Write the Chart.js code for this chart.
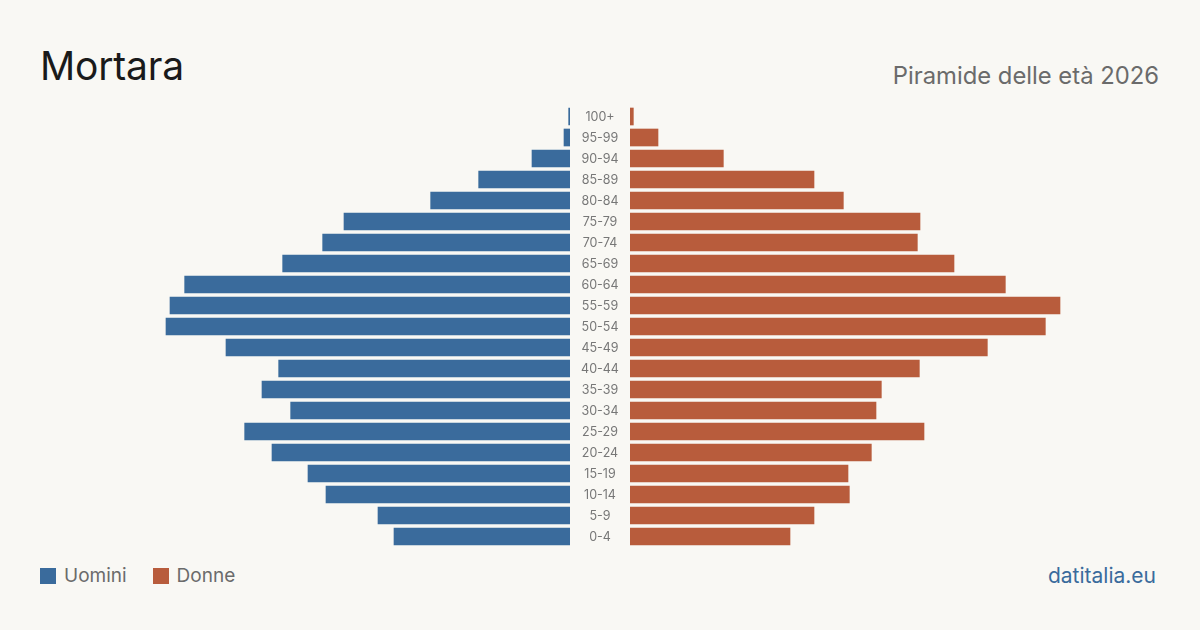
<!DOCTYPE html>
<html><head><meta charset="utf-8">
<script src="https://cdn.jsdelivr.net/npm/chart.js@4"></script>
<style>
html,body{margin:0;padding:0;background:#f9f8f4;width:1200px;height:630px;overflow:hidden;font-family:Inter,"Noto Sans",sans-serif;}
#title{position:absolute;left:40px;top:42px;font-size:39px;color:#1a1a1a;line-height:48px;letter-spacing:-0.2px;}
#sub{position:absolute;right:41px;top:62px;font-size:23.8px;color:#6b6b6b;line-height:28px;}
#legend{position:absolute;left:40px;top:564px;font-size:19px;color:#6b6b6b;line-height:24px;display:flex;align-items:center;}
.sw{display:inline-block;width:16px;height:16px;margin-right:8px;}
.it{display:flex;align-items:center;margin-right:26px;}
#brand{position:absolute;right:44px;top:563px;font-size:21px;color:#3a6b9c;line-height:26px;}
#lw{position:absolute;left:30px;top:106px;width:540px;height:441px;}
#rw{position:absolute;left:570px;top:106px;width:600px;height:441px;}
</style></head><body>
<div id="title">Mortara</div>
<div id="sub">Piramide delle età 2026</div>
<div id="legend"><span class="it"><span class="sw" style="background:#3a6b9c"></span>Uomini</span><span class="it"><span class="sw" style="background:#b85c3c"></span>Donne</span></div>
<div id="brand">datitalia.eu</div>
<div id="lw"><canvas id="left"></canvas></div>
<div id="rw"><canvas id="right"></canvas></div>
<script>
const ageGroups = ["100+","95-99","90-94","85-89","80-84","75-79","70-74","65-69","60-64","55-59","50-54","45-49","40-44","35-39","30-34","25-29","20-24","15-19","10-14","5-9","0-4"];
const uomini = [2,9,57,137,209,339,371,431,578,600,606,516,437,462,419,488,447,393,366,288,264];
const donne = [5,42,140,276,320,435,431,486,563,645,623,536,434,377,369,441,362,327,329,276,240];
const axisMax = 810;
const blue = "#3a6b9c", orange = "#b85c3c";

Chart.defaults.font.family = "Inter, 'Noto Sans', sans-serif";
Chart.defaults.animation = false;

const centerLabels = {
  id: "centerLabels",
  afterDraw(chart) {
    const ctx = chart.ctx, ys = chart.scales.y, left = chart.chartArea.left;
    ctx.save();
    ctx.fillStyle = "#777";
    ctx.font = "12.5px Inter, 'Noto Sans', sans-serif";
    ctx.textAlign = "center";
    ctx.textBaseline = "middle";
    chart.data.labels.forEach((lab, i) => {
      ctx.fillText(lab, left - 30, ys.getPixelForValue(i) + 0.5);
    });
    ctx.restore();
  }
};

new Chart(document.getElementById("left"), {
  type: "bar",
  data: { labels: ageGroups, datasets: [{ label: "Uomini", data: uomini, backgroundColor: blue, barThickness: 17 }] },
  options: {
    indexAxis: "y", responsive: true, maintainAspectRatio: false,
    layout: { padding: 0 },
    plugins: { legend: { display: false }, tooltip: { enabled: false } },
    scales: {
      x: { display: false, reverse: true, min: 0, max: axisMax },
      y: { display: false }
    }
  }
});

new Chart(document.getElementById("right"), {
  type: "bar",
  data: { labels: ageGroups, datasets: [{ label: "Donne", data: donne, backgroundColor: orange, barThickness: 17 }] },
  options: {
    indexAxis: "y", responsive: true, maintainAspectRatio: false,
    layout: { padding: { left: 60, right: 0, top: 0, bottom: 0 } },
    plugins: { legend: { display: false }, tooltip: { enabled: false } },
    scales: {
      x: { display: false, min: 0, max: axisMax },
      y: { display: false }
    }
  },
  plugins: [centerLabels]
});
</script>
</body></html>
